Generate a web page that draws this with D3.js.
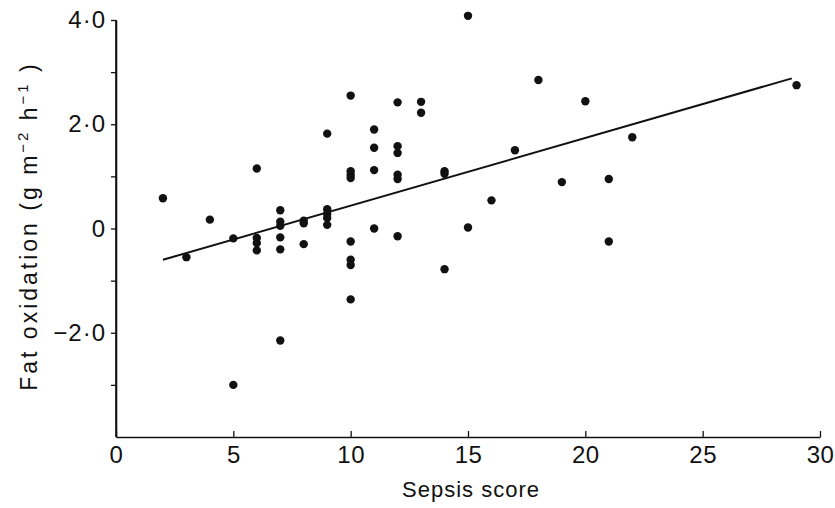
<!DOCTYPE html>
<html>
<head>
<meta charset="utf-8">
<script src="https://cdn.jsdelivr.net/npm/d3@7"></script>
<style>
body { margin:0; background:#fff; }
text { font-family:"Liberation Sans", Arial, sans-serif; fill:#111; }
</style>
</head>
<body>
<script>
// sepsis score (x) and fat oxidation (y)
const sepsis = [2, 3, 4, 5, 5,
                6, 6, 6, 6,
                7, 7, 7, 7, 7, 7,
                8, 8, 8,
                9, 9, 9, 9, 9,
                10, 10, 10, 10, 10, 10, 10, 10,
                11, 11, 11, 11,
                12, 12, 12, 12, 12, 12,
                13, 13, 14, 14, 14, 15, 15, 16, 17, 18, 19, 20, 21, 21, 22, 29];
const fatOx = [0.58, -0.55, 0.17, -0.19, -3.0,
               1.15, -0.18, -0.28, -0.42,
               0.35, 0.13, 0.05, -0.17, -0.4, -2.15,
               0.15, 0.1, -0.3,
               1.82, 0.37, 0.28, 0.2, 0.07,
               2.55, 1.1, 1.03, 0.97, -0.25, -0.6, -0.7, -1.36,
               1.9, 1.55, 1.12, 0.0,
               2.42, 1.58, 1.45, 1.03, 0.95, -0.15,
               2.43, 2.22, 1.1, 1.05, -0.78, 4.08, 0.02, 0.54, 1.5, 2.85, 0.89, 2.44, 0.95, -0.25, 1.75, 2.75];
// fitted regression line end points
const fitX = [2, 28.8];
const fitY = [-0.6, 2.88];

const xTicks = [0, 5, 10, 15, 20, 25, 30];
const yTicks = [-3, -2, -1, 0, 1, 2, 3, 4];
const yTickLabels = {'4': '4·0', '2': '2·0', '0': '0', '-2': '−2·0'};

const svg = d3.select('body').append('svg')
              .attr('width', 835).attr('height', 508);

const x = d3.scaleLinear().domain([0, 30]).range([116, 820]);
const y = d3.scaleLinear().domain([-4, 4]).range([437, 20]);

// x axis, ticks pointing up
const xAxis = svg.append('g').attr('transform', 'translate(0,' + y(-4) + ')')
   .call(d3.axisBottom(x).tickValues(xTicks).tickSize(-6).tickSizeOuter(0).tickPadding(9));
xAxis.selectAll('text').style('font-size', '24px').style('letter-spacing', '0.5px');

// y axis, ticks pointing left
const yAxis = svg.append('g').attr('transform', 'translate(' + x(0) + ',0)')
   .call(d3.axisLeft(y).tickValues(yTicks).tickSize(5).tickSizeOuter(0).tickPadding(5)
           .tickFormat(d => yTickLabels[d] || ''));
yAxis.selectAll('text').style('font-size', '24px').style('letter-spacing', '1px');

svg.selectAll('.domain').style('stroke', '#111').style('stroke-width', 1.6);
svg.selectAll('.tick line').style('stroke', '#111').style('stroke-width', 1.3);

// y axis spine down to the x axis
svg.append('line').attr('x1', x(0)).attr('x2', x(0)).attr('y1', y(4)).attr('y2', y(-4))
   .style('stroke', '#111').style('stroke-width', 1.6);

// regression line
svg.append('line')
   .attr('x1', x(fitX[0])).attr('y1', y(fitY[0]))
   .attr('x2', x(fitX[1])).attr('y2', y(fitY[1]))
   .style('stroke', '#111').style('stroke-width', 2);

// points
svg.selectAll('circle.pt').data(sepsis).enter().append('circle')
   .attr('class', 'pt')
   .attr('cx', d => x(d))
   .attr('cy', (d, i) => y(fatOx[i]))
   .attr('r', 4.2)
   .style('fill', '#111');

// axis titles
svg.append('text').attr('x', 471).attr('y', 497)
   .attr('text-anchor', 'middle')
   .style('font-size', '22px').style('letter-spacing', '1px')
   .text('Sepsis score');

const yt = svg.append('text')
   .attr('transform', 'translate(37,226) rotate(-90)')
   .attr('text-anchor', 'middle')
   .style('font-size', '23px').style('letter-spacing', '3px');
yt.append('tspan').text('Fat oxidation (g m');
yt.append('tspan').attr('dy', -9).style('font-size', '15px').text('−2');
yt.append('tspan').attr('dy', 9).text(' h');
yt.append('tspan').attr('dy', -9).style('font-size', '15px').text('−1');
yt.append('tspan').attr('dy', 9).text(' )');
</script>
</body>
</html>
